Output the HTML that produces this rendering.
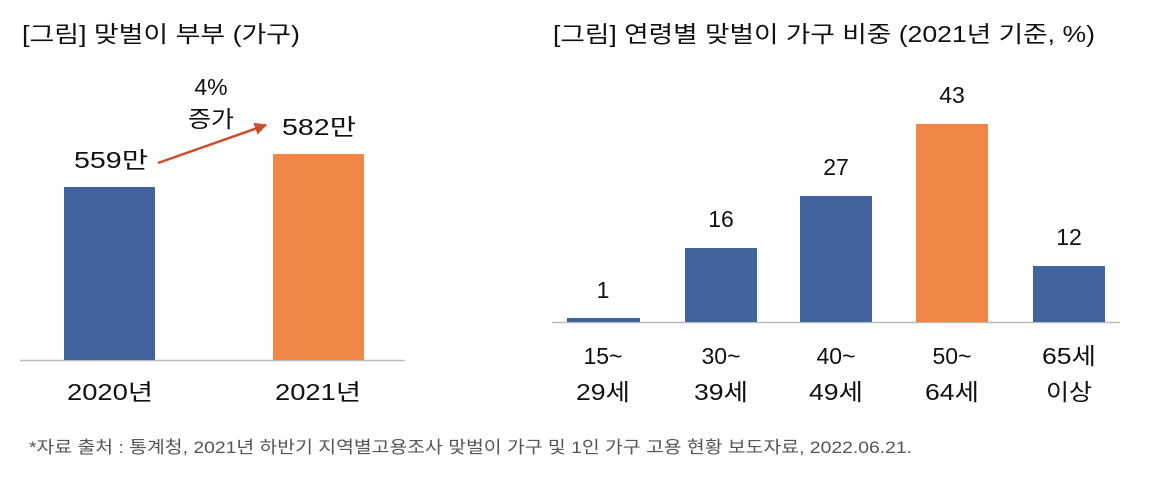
<!DOCTYPE html>
<html><head><meta charset="utf-8"><style>
body{margin:0;width:1154px;height:482px;background:#fff;overflow:hidden}
svg text{font-family:"Liberation Sans","Noto Sans CJK KR",sans-serif;fill:#111}
</style></head><body>
<svg width="1154" height="482" viewBox="0 0 1154 482">
<defs><marker id="ah" viewBox="0 0 10 10" refX="9" refY="5" markerWidth="5" markerHeight="5" orient="auto"><path d="M0,0L10,5L0,10z" fill="#c9502b"/></marker></defs>
<text x="22" y="42" font-size="23" textLength="278" lengthAdjust="spacingAndGlyphs">[그림] 맞벌이 부부 (가구)</text>
<line x1="20" y1="360.5" x2="405" y2="360.5" stroke="#bbb" stroke-width="1.5"/>
<rect x="64" y="187" width="91" height="173" fill="#41649f"/>
<rect x="273" y="154" width="91" height="206" fill="#f08747"/>
<g font-size="23" text-anchor="middle">
<text x="111" y="168" textLength="74" lengthAdjust="spacingAndGlyphs">559만</text>
<text x="319" y="135" textLength="74" lengthAdjust="spacingAndGlyphs">582만</text>
<text x="211" y="95">4%</text>
<text x="211" y="127" textLength="46" lengthAdjust="spacingAndGlyphs">증가</text>
<text x="110" y="400" textLength="86" lengthAdjust="spacingAndGlyphs">2020년</text>
<text x="318" y="400" textLength="86" lengthAdjust="spacingAndGlyphs">2021년</text>
</g>
<line x1="158" y1="163" x2="266" y2="125" stroke="#c9502b" stroke-width="2.5" marker-end="url(#ah)"/>

<text x="553" y="42" font-size="23" textLength="542" lengthAdjust="spacingAndGlyphs">[그림] 연령별 맞벌이 가구 비중 (2021년 기준, %)</text>
<line x1="552" y1="322.5" x2="1120" y2="322.5" stroke="#bbb" stroke-width="1.5"/>
<rect x="567" y="318" width="73" height="4" fill="#41649f"/>
<rect x="685" y="248" width="72" height="74" fill="#41649f"/>
<rect x="800" y="196" width="72" height="126" fill="#41649f"/>
<rect x="916" y="124" width="72" height="198" fill="#f08747"/>
<rect x="1033" y="266" width="72" height="56" fill="#41649f"/>
<g font-size="23" text-anchor="middle">
<text x="603" y="298">1</text>
<text x="721" y="227">16</text>
<text x="836" y="175">27</text>
<text x="952" y="103">43</text>
<text x="1069" y="245">12</text>
<text x="603" y="364">15~</text><text x="603" y="400" textLength="54" lengthAdjust="spacingAndGlyphs">29세</text>
<text x="721" y="364">30~</text><text x="721" y="400" textLength="54" lengthAdjust="spacingAndGlyphs">39세</text>
<text x="836" y="364">40~</text><text x="836" y="400" textLength="54" lengthAdjust="spacingAndGlyphs">49세</text>
<text x="952" y="364">50~</text><text x="952" y="400" textLength="54" lengthAdjust="spacingAndGlyphs">64세</text>
<text x="1069" y="364" textLength="54" lengthAdjust="spacingAndGlyphs">65세</text><text x="1069" y="400" textLength="46" lengthAdjust="spacingAndGlyphs">이상</text>
</g>
<text x="29" y="453" font-size="17" textLength="883" lengthAdjust="spacingAndGlyphs" style="fill:#555">*자료 출처 : 통계청, 2021년 하반기 지역별고용조사 맞벌이 가구 및 1인 가구 고용 현황 보도자료, 2022.06.21.</text>
</svg>
</body></html>
